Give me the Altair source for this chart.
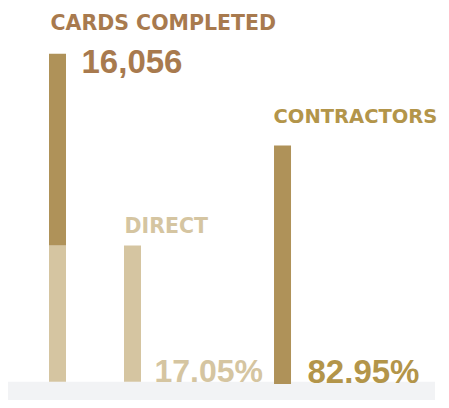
import altair as alt
import pandas as pd

# ---- data (bar lengths in picture units, left bar = 100) ----
categories = ["CARDS COMPLETED", "DIRECT", "CONTRACTORS"]
slots = [0, 1, 3]
bar_lengths = [100, 41.5, 72]
bar_starts = [0, 0, -0.7]   # the contractors bar dips slightly into the floor
left_split = 41.5           # light (direct) part of the left stacked bar
value_labels = ["16,056", "17.05%", "82.95%"]

LIGHT = "#D5C5A1"
DARK = "#AF9259"
TITLE = "#A87A4E"
GOLD = "#B3954A"
FLOOR = "#F2F3F5"
LABEL_FONT = "DejaVu Sans"
NUM_FONT = "Liberation Sans"

segments = pd.DataFrame({
    "slot": [slots[0], slots[0], slots[1], slots[2]],
    "start": [bar_starts[0], left_split, bar_starts[1], bar_starts[2]],
    "end": [left_split, bar_lengths[0], bar_lengths[1], bar_lengths[2]],
    "part": ["direct", "contractors", "direct", "contractors"],
})
bars_df = pd.DataFrame({"slot": slots, "len": bar_lengths, "cat": categories, "val": value_labels})

xs = alt.Scale(domain=[-0.66, 5.113], nice=False, zero=False, padding=0)
ys = alt.Scale(domain=[-5.58, 113.93], nice=False, zero=False, padding=0)
X = lambda f: alt.X(f, type="quantitative", scale=xs, axis=None)
Y = lambda f: alt.Y(f, type="quantitative", scale=ys, axis=None)

floor = alt.Chart(bars_df.head(1)).mark_rect(color=FLOOR).encode(
    x=alt.value(0), x2=alt.value(427),
    y=alt.Y(datum=0, type="quantitative", scale=ys, axis=None),
    y2=alt.Y2(datum=-5.58),
)

bars = alt.Chart(segments).mark_bar(size=17).encode(
    x=X("slot"), y=Y("end"), y2="start",
    color=alt.Color("part:N", scale=alt.Scale(domain=["direct", "contractors"], range=[LIGHT, DARK]), legend=None),
)

def label(row, field, ycol, dx, dy, size, color, font):
    d = bars_df.iloc[[row]].copy()
    d["y"] = d["len"] if ycol == "top" else 0
    return alt.Chart(d).mark_text(
        align="left", baseline="alphabetic", dx=dx, dy=dy, font=font,
        fontWeight="bold", fontSize=size, color=color,
    ).encode(x=X("slot"), y=Y("y"), text=f"{field}:N")

layers = [
    floor, bars,
    label(0, "cat", "top", -7, -24, 20.5, TITLE, LABEL_FONT),
    label(0, "val", "top", 24, 19, 33, TITLE, NUM_FONT),
    label(1, "cat", "top", -8, -13, 20.5, LIGHT, LABEL_FONT),
    label(1, "val", "zero", 22, 0, 32, LIGHT, NUM_FONT),
    label(2, "cat", "top", -9, -23, 19.5, GOLD, LABEL_FONT),
    label(2, "val", "zero", 25, 1, 33, GOLD, NUM_FONT),
]

chart = alt.layer(*layers).properties(
    width=433, height=392,
    autosize=alt.AutoSizeParams(type="none"),
    padding=0, background="white",
).configure_view(stroke=None)

chart.save("out.html", embed_options={"renderer": "svg", "actions": False})
